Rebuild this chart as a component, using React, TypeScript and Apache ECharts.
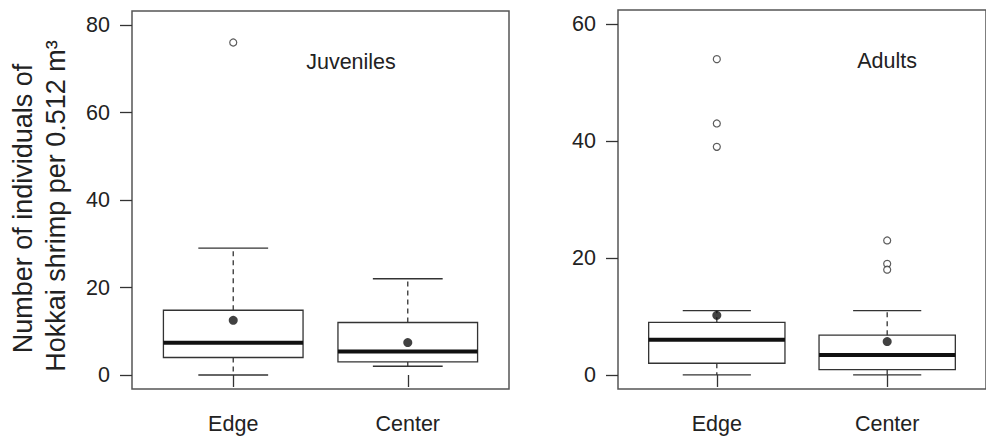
import React, { useEffect, useRef } from 'react';
import * as echarts from 'echarts';

// ---- data ----
const categories = ['Edge', 'Center'];
const positions = [1, 2];

// Juveniles
const juvLow = [0, 2];
const juvQ1 = [4, 3];
const juvMedian = [7.4, 5.4];
const juvQ3 = [14.8, 12];
const juvHigh = [29, 22];
const juvMean = [12.5, 7.4];
const juvOutliers = [[1, 76]];

// Adults
const adLow = [0, 0];
const adQ1 = [2, 0.9];
const adMedian = [6, 3.4];
const adQ3 = [9, 6.8];
const adHigh = [11, 11];
const adMean = [10.2, 5.7];
const adOutliers = [[1, 54], [1, 43], [1, 39], [2, 23], [2, 19], [2, 18]];

const juvTicks = [0, 20, 40, 60, 80];
const adTicks = [0, 20, 40, 60];

const FONT = '"Liberation Sans", Arial, Helvetica, sans-serif';
const TEXT = '#222';
const LINE = '#333';

const renderBox = (params: any, api: any) => {
  const x = api.value(0);
  const low = api.value(1);
  const q1 = api.value(2);
  const med = api.value(3);
  const q3 = api.value(4);
  const high = api.value(5);
  const half = 0.4;
  const st = 0.2;
  const tl = api.coord([x - half, q3]);
  const br = api.coord([x + half, q1]);
  const cx = api.coord([x, med])[0];
  const yLow = api.coord([x, low])[1];
  const yHigh = api.coord([x, high])[1];
  const yMed = api.coord([x, med])[1];
  const sL = api.coord([x - st, 0])[0];
  const sR = api.coord([x + st, 0])[0];
  const thin = { stroke: LINE, lineWidth: 1.3 };
  return {
    type: 'group',
    children: [
      { type: 'line', shape: { x1: cx, y1: tl[1], x2: cx, y2: yHigh }, style: { ...thin, lineDash: [5, 4] } },
      { type: 'line', shape: { x1: cx, y1: br[1], x2: cx, y2: yLow }, style: { ...thin, lineDash: [5, 4] } },
      { type: 'line', shape: { x1: sL, y1: yHigh, x2: sR, y2: yHigh }, style: thin },
      { type: 'line', shape: { x1: sL, y1: yLow, x2: sR, y2: yLow }, style: thin },
      { type: 'rect', shape: { x: tl[0], y: tl[1], width: br[0] - tl[0], height: br[1] - tl[1] }, style: { fill: 'none', ...thin } },
      { type: 'line', shape: { x1: tl[0], y1: yMed, x2: br[0], y2: yMed }, style: { stroke: '#111', lineWidth: 4 } },
    ],
  };
};

const boxData = (lo: number[], a: number[], m: number[], b: number[], hi: number[]) =>
  positions.map((p, i) => [p, lo[i], a[i], m[i], b[i], hi[i]]);

const xAxisCfg = (gridIndex: number) => ({
  gridIndex,
  type: 'value',
  min: 0.42,
  max: 2.58,
  axisLine: { show: false },
  splitLine: { show: false },
  axisTick: { show: true, length: 12, lineStyle: { color: LINE, width: 1.3 }, customValues: positions },
  axisLabel: {
    customValues: positions,
    formatter: (v: number) => categories[Math.round(v) - 1] ?? '',
    margin: 24,
    fontSize: 21.5,
    color: TEXT,
    fontFamily: FONT,
  },
});

const yAxisCfg = (gridIndex: number, min: number, max: number, ticks: number[]) => ({
  gridIndex,
  type: 'value',
  min,
  max,
  axisLine: { show: false },
  splitLine: { show: false },
  axisTick: { show: true, length: 12, lineStyle: { color: LINE, width: 1.3 }, customValues: ticks },
  axisLabel: { customValues: ticks, margin: 22, fontSize: 21.5, color: TEXT, fontFamily: FONT },
});

export default function App() {
  const ref = useRef<HTMLDivElement>(null);
  useEffect(() => {
    if (!ref.current) return;
    const chart = echarts.init(ref.current, undefined, { renderer: 'svg' });
    const gridStyle = { show: true, borderColor: '#555', borderWidth: 1.5, backgroundColor: 'transparent' };
    chart.setOption({
      animation: false,
      grid: [
        { left: 132, top: 11, width: 377, height: 378, ...gridStyle },
        { left: 618, top: 10, width: 380, height: 379, ...gridStyle },
      ],
      xAxis: [xAxisCfg(0), xAxisCfg(1)],
      yAxis: [yAxisCfg(0, -3.2, 83.2, juvTicks), yAxisCfg(1, -2.4, 62.4, adTicks)],
      series: [
        {
          type: 'custom', xAxisIndex: 0, yAxisIndex: 0, renderItem: renderBox,
          encode: { x: 0, y: [1, 2, 3, 4, 5] },
          data: boxData(juvLow, juvQ1, juvMedian, juvQ3, juvHigh),
        },
        {
          type: 'custom', xAxisIndex: 1, yAxisIndex: 1, renderItem: renderBox,
          encode: { x: 0, y: [1, 2, 3, 4, 5] },
          data: boxData(adLow, adQ1, adMedian, adQ3, adHigh),
        },
        {
          type: 'scatter', xAxisIndex: 0, yAxisIndex: 0, symbol: 'circle', symbolSize: 7,
          itemStyle: { color: '#fff', borderColor: LINE, borderWidth: 1.2 },
          data: juvOutliers,
        },
        {
          type: 'scatter', xAxisIndex: 1, yAxisIndex: 1, symbol: 'circle', symbolSize: 7,
          itemStyle: { color: '#fff', borderColor: LINE, borderWidth: 1.2 },
          data: adOutliers,
        },
        {
          type: 'scatter', xAxisIndex: 0, yAxisIndex: 0, symbol: 'circle', symbolSize: 9,
          itemStyle: { color: '#111' },
          data: positions.map((p, i) => [p, juvMean[i]]),
        },
        {
          type: 'scatter', xAxisIndex: 1, yAxisIndex: 1, symbol: 'circle', symbolSize: 9,
          itemStyle: { color: '#111' },
          data: positions.map((p, i) => [p, adMean[i]]),
        },
      ],
      graphic: [
        {
          type: 'text', x: 22.5, y: 208.5, rotation: Math.PI / 2,
          style: { text: 'Number of individuals of', fontSize: 27, fill: TEXT, fontFamily: FONT, align: 'center', verticalAlign: 'middle' },
        },
        {
          type: 'text', x: 56, y: 206, rotation: Math.PI / 2,
          style: { text: 'Hokkai shrimp per 0.512 m³', fontSize: 27, fill: TEXT, fontFamily: FONT, align: 'center', verticalAlign: 'middle' },
        },
        {
          type: 'text', x: 351, y: 62,
          style: { text: 'Juveniles', fontSize: 21.5, fill: TEXT, fontFamily: FONT, align: 'center', verticalAlign: 'middle' },
        },
        {
          type: 'text', x: 887, y: 61,
          style: { text: 'Adults', fontSize: 21.5, fill: TEXT, fontFamily: FONT, align: 'center', verticalAlign: 'middle' },
        },
      ],
    });
    return () => chart.dispose();
  }, []);
  return <div ref={ref} style={{ position: 'absolute', left: 0, top: 0, width: 986, height: 436 }} />;
}
